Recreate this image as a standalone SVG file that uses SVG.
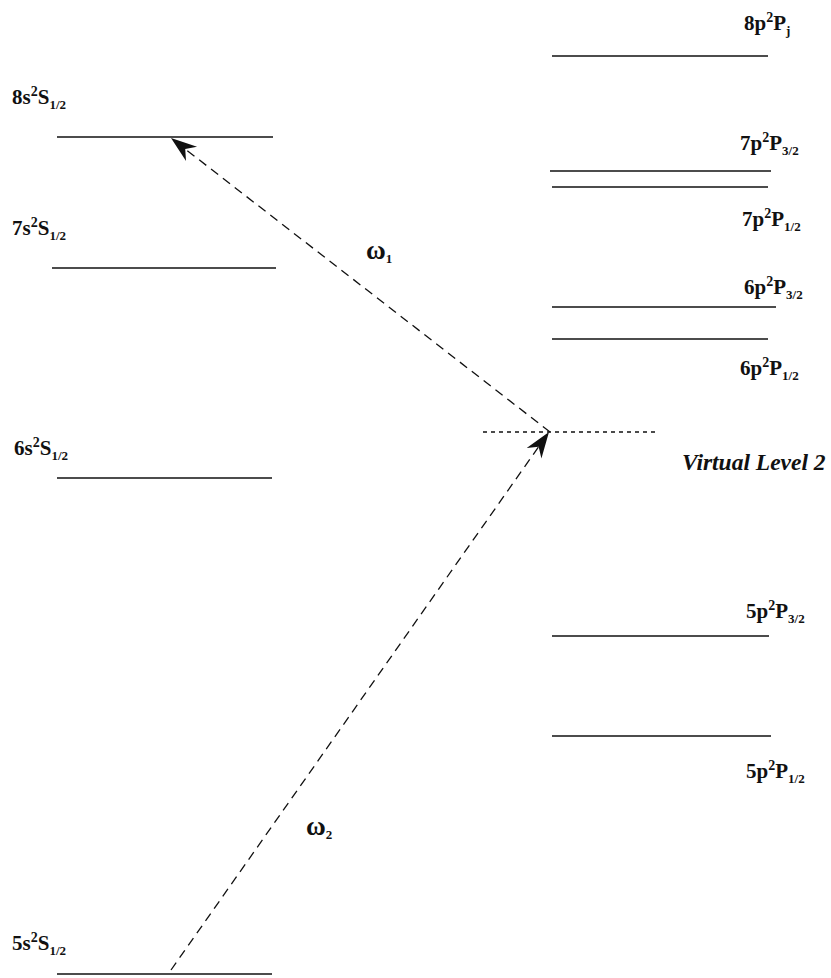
<svg xmlns="http://www.w3.org/2000/svg" width="831" height="978" viewBox="0 0 831 978">
<style>
.lvl{stroke:#111;stroke-width:1.6;fill:none}
.lab{font-family:"Liberation Serif","Times New Roman",serif;font-weight:bold;font-size:21px;fill:#111}
.sub{font-size:13px}
.sup{font-size:14px}
.conn{stroke:#111;stroke-width:1.3;stroke-dasharray:9 6;fill:none}
.virt{stroke:#111;stroke-width:1.5;stroke-dasharray:4 4;fill:none}
.vl{font-family:"Liberation Serif","Times New Roman",serif;font-weight:bold;font-style:italic;font-size:23.5px;fill:#111}
.om{font-family:"Liberation Serif","Times New Roman",serif;font-weight:bold;font-size:27px;fill:#111}
</style>
<defs>
<marker id="ah" viewBox="-28 -11 30 22" refX="0" refY="0" markerWidth="30" markerHeight="22" markerUnits="userSpaceOnUse" orient="auto">
<path d="M0,0 L-26,-9 L-18,0 L-26,9 Z" fill="#111"/>
</marker>
</defs>
<g id="level-8s">
<line class="lvl" x1="57" y1="137" x2="273" y2="137"/>
<text class="lab" x="12" y="104">8s<tspan class="sup" dy="-8">2</tspan><tspan dy="8">S</tspan><tspan class="sub" dy="5">1/2</tspan></text>
</g>
<g id="level-7s">
<line class="lvl" x1="52" y1="268" x2="276" y2="268"/>
<text class="lab" x="12" y="235">7s<tspan class="sup" dy="-8">2</tspan><tspan dy="8">S</tspan><tspan class="sub" dy="5">1/2</tspan></text>
</g>
<g id="level-6s">
<line class="lvl" x1="57" y1="478" x2="272" y2="478"/>
<text class="lab" x="14" y="455">6s<tspan class="sup" dy="-8">2</tspan><tspan dy="8">S</tspan><tspan class="sub" dy="5">1/2</tspan></text>
</g>
<g id="level-5s">
<line class="lvl" x1="57" y1="974" x2="272" y2="974"/>
<text class="lab" x="12" y="950">5s<tspan class="sup" dy="-8">2</tspan><tspan dy="8">S</tspan><tspan class="sub" dy="5">1/2</tspan></text>
</g>
<g id="level-8p">
<line class="lvl" x1="552" y1="56" x2="768" y2="56"/>
<text class="lab" x="744" y="30">8p<tspan class="sup" dy="-8">2</tspan><tspan dy="8">P</tspan><tspan class="sub" dy="5">j</tspan></text>
</g>
<g id="level-7p32">
<line class="lvl" x1="550" y1="171" x2="771" y2="171"/>
<text class="lab" x="740" y="150">7p<tspan class="sup" dy="-8">2</tspan><tspan dy="8">P</tspan><tspan class="sub" dy="5">3/2</tspan></text>
</g>
<g id="level-7p12">
<line class="lvl" x1="552" y1="187" x2="768" y2="187"/>
<text class="lab" x="742" y="226">7p<tspan class="sup" dy="-8">2</tspan><tspan dy="8">P</tspan><tspan class="sub" dy="5">1/2</tspan></text>
</g>
<g id="level-6p32">
<line class="lvl" x1="552" y1="307" x2="776" y2="307"/>
<text class="lab" x="744" y="294">6p<tspan class="sup" dy="-8">2</tspan><tspan dy="8">P</tspan><tspan class="sub" dy="5">3/2</tspan></text>
</g>
<g id="level-6p12">
<line class="lvl" x1="552" y1="339" x2="768" y2="339"/>
<text class="lab" x="740" y="375">6p<tspan class="sup" dy="-8">2</tspan><tspan dy="8">P</tspan><tspan class="sub" dy="5">1/2</tspan></text>
</g>
<g id="virtual-level">
<line class="virt" x1="483" y1="432" x2="657" y2="432"/>
<text class="vl" x="682" y="470">Virtual Level 2</text>
</g>
<g id="level-5p32">
<line class="lvl" x1="552" y1="636" x2="769" y2="636"/>
<text class="lab" x="746" y="618">5p<tspan class="sup" dy="-8">2</tspan><tspan dy="8">P</tspan><tspan class="sub" dy="5">3/2</tspan></text>
</g>
<g id="level-5p12">
<line class="lvl" x1="552" y1="736" x2="771" y2="736"/>
<text class="lab" x="746" y="778">5p<tspan class="sup" dy="-8">2</tspan><tspan dy="8">P</tspan><tspan class="sub" dy="5">1/2</tspan></text>
</g>
<g id="connectors">
<line class="conn" x1="550" y1="432" x2="171" y2="138" marker-end="url(#ah)"/>
<line class="conn" x1="171" y1="970" x2="549" y2="432" marker-end="url(#ah)"/>
<text class="om" x="366" y="259">ω<tspan class="sub" font-size="16" dy="4">1</tspan></text>
<text class="om" x="306" y="835">ω<tspan class="sub" font-size="16" dy="4">2</tspan></text>
</g>
</svg>
